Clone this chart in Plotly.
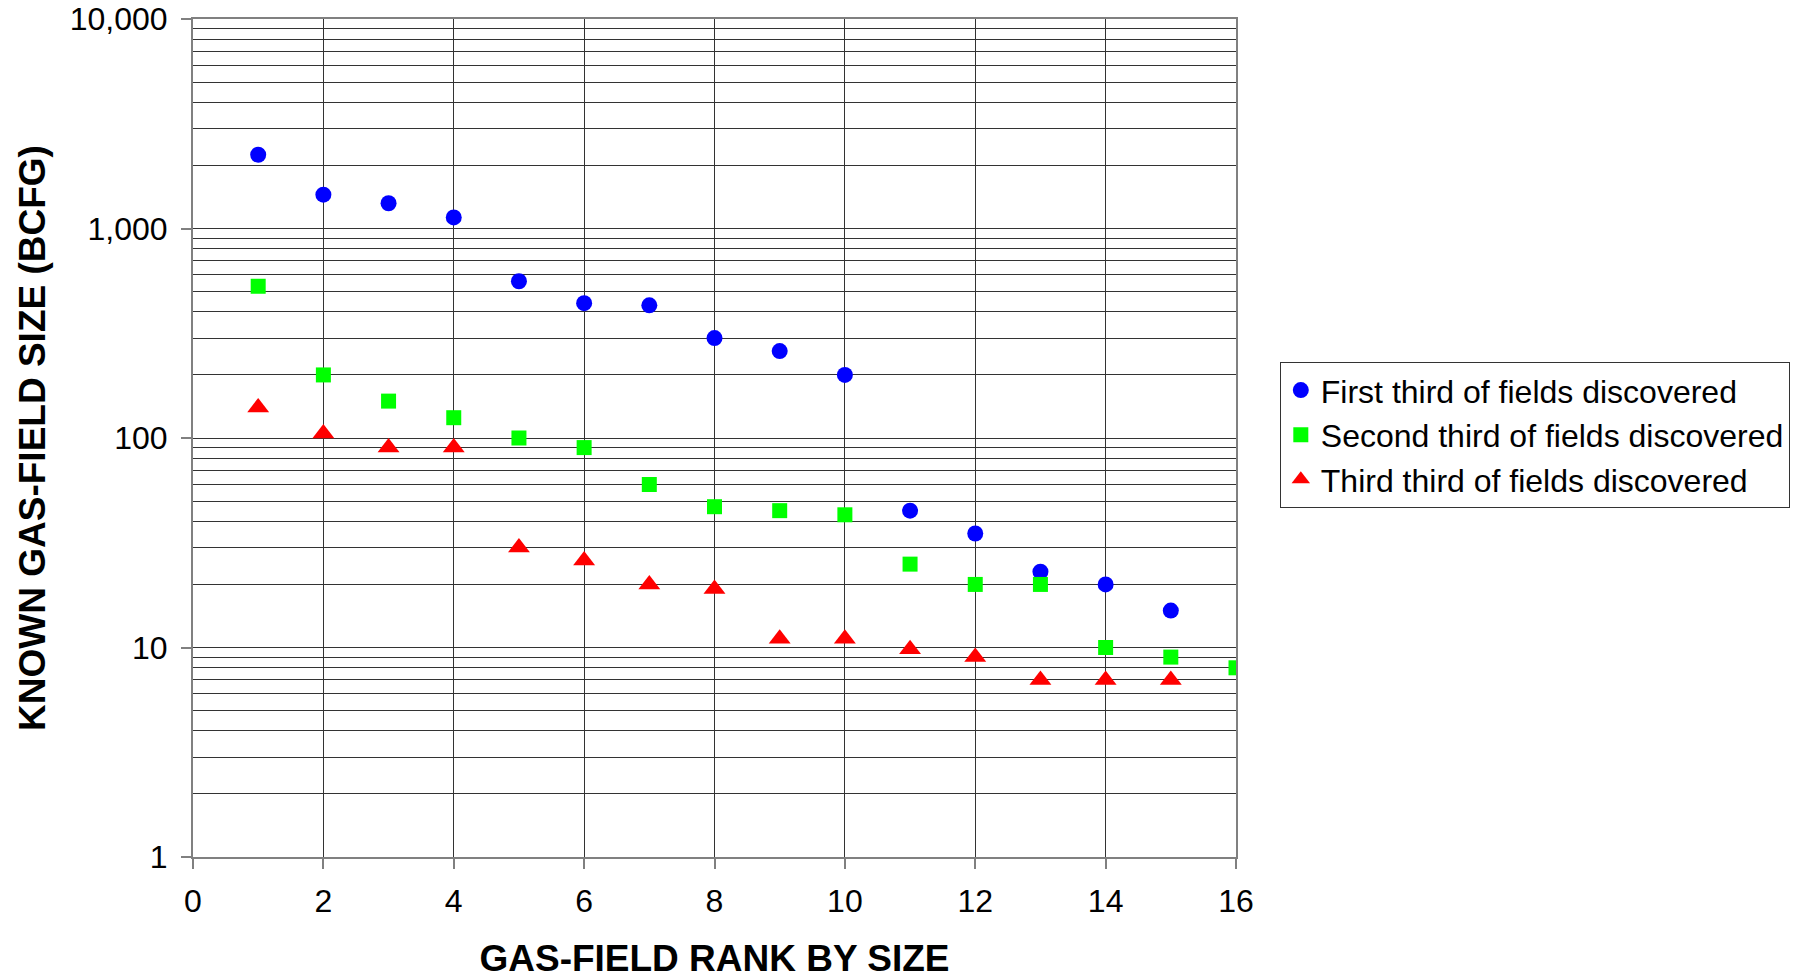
import plotly.graph_objects as go

rank_first = list(range(1, 16))
first_third = [2250, 1450, 1320, 1130, 560, 440, 430, 300, 260, 200, 45, 35, 23, 20, 15]

rank_second = list(range(1, 17))
second_third = [530, 200, 150, 125, 100, 90, 60, 47, 45, 43, 25, 20, 20, 10, 9, 8]

rank_third = list(range(1, 16))
third_third = [140, 105, 90, 90, 30, 26, 20, 19, 11, 11, 9.8, 9, 7, 7, 7]

x_ticks = [0, 2, 4, 6, 8, 10, 12, 14, 16]
y_ticks = [1, 10, 100, 1000, 10000]
y_ticktext = ["1", "10", "100", "1,000", "10,000"]

FONT = "Liberation Sans, Arial, sans-serif"

fig = go.Figure()
fig.add_trace(go.Scatter(x=rank_first, y=first_third, mode="markers",
                         name="First third of fields discovered",
                         marker=dict(symbol="circle", size=16, color="#0000FF")))
fig.add_trace(go.Scatter(x=rank_second, y=second_third, mode="markers",
                         name="Second third of fields discovered",
                         marker=dict(symbol="square", size=15, color="#00FF00")))
fig.add_trace(go.Scatter(x=rank_third, y=third_third, mode="markers",
                         name="Third third of fields discovered",
                         marker=dict(symbol="triangle-up", size=19, color="#FF0000")))

fig.update_layout(
    width=1803, height=979,
    margin=dict(l=193, r=567, t=19, b=122),
    paper_bgcolor="white", plot_bgcolor="white",
    font=dict(family=FONT, size=32, color="black"),
    showlegend=True,
    legend=dict(x=1.042, y=0.591, xanchor="left", yanchor="top",
                bordercolor="#333333", borderwidth=1, bgcolor="white",
                font=dict(size=32), tracegroupgap=0),
)

fig.update_xaxes(
    range=[0, 16], tickvals=x_ticks, ticks="outside", ticklen=10,
    tickcolor="#808080", tickwidth=2, ticklabelstandoff=5,
    showgrid=True, gridcolor="#333333", gridwidth=1,
    showline=True, linecolor="#808080", linewidth=2, mirror=True,
    zeroline=False, automargin=False, ticklabeloverflow="allow",
    tickfont=dict(size=32),
    title=dict(text="<b>GAS-FIELD RANK BY SIZE</b>", font=dict(size=37), standoff=33),
)

fig.update_yaxes(
    type="log", range=[0, 4], tickvals=y_ticks, ticktext=y_ticktext,
    ticks="outside", ticklen=10, tickcolor="#808080", tickwidth=2, ticklabelstandoff=7,
    showgrid=True, gridcolor="#333333", gridwidth=1,
    minor=dict(dtick="D1", showgrid=True, gridcolor="#333333", gridwidth=1, ticks=""),
    showline=True, linecolor="#808080", linewidth=2, mirror=True,
    zeroline=False, automargin=False, ticklabeloverflow="allow",
    tickfont=dict(size=32),
    title=dict(text="<b>KNOWN GAS-FIELD SIZE (BCFG)</b>", font=dict(size=37), standoff=13),
)

fig.write_html(
    "out.html",
    config={"displayModeBar": False},
    post_script="document.body.style.margin='0px';document.body.style.overflow='hidden';",
)
